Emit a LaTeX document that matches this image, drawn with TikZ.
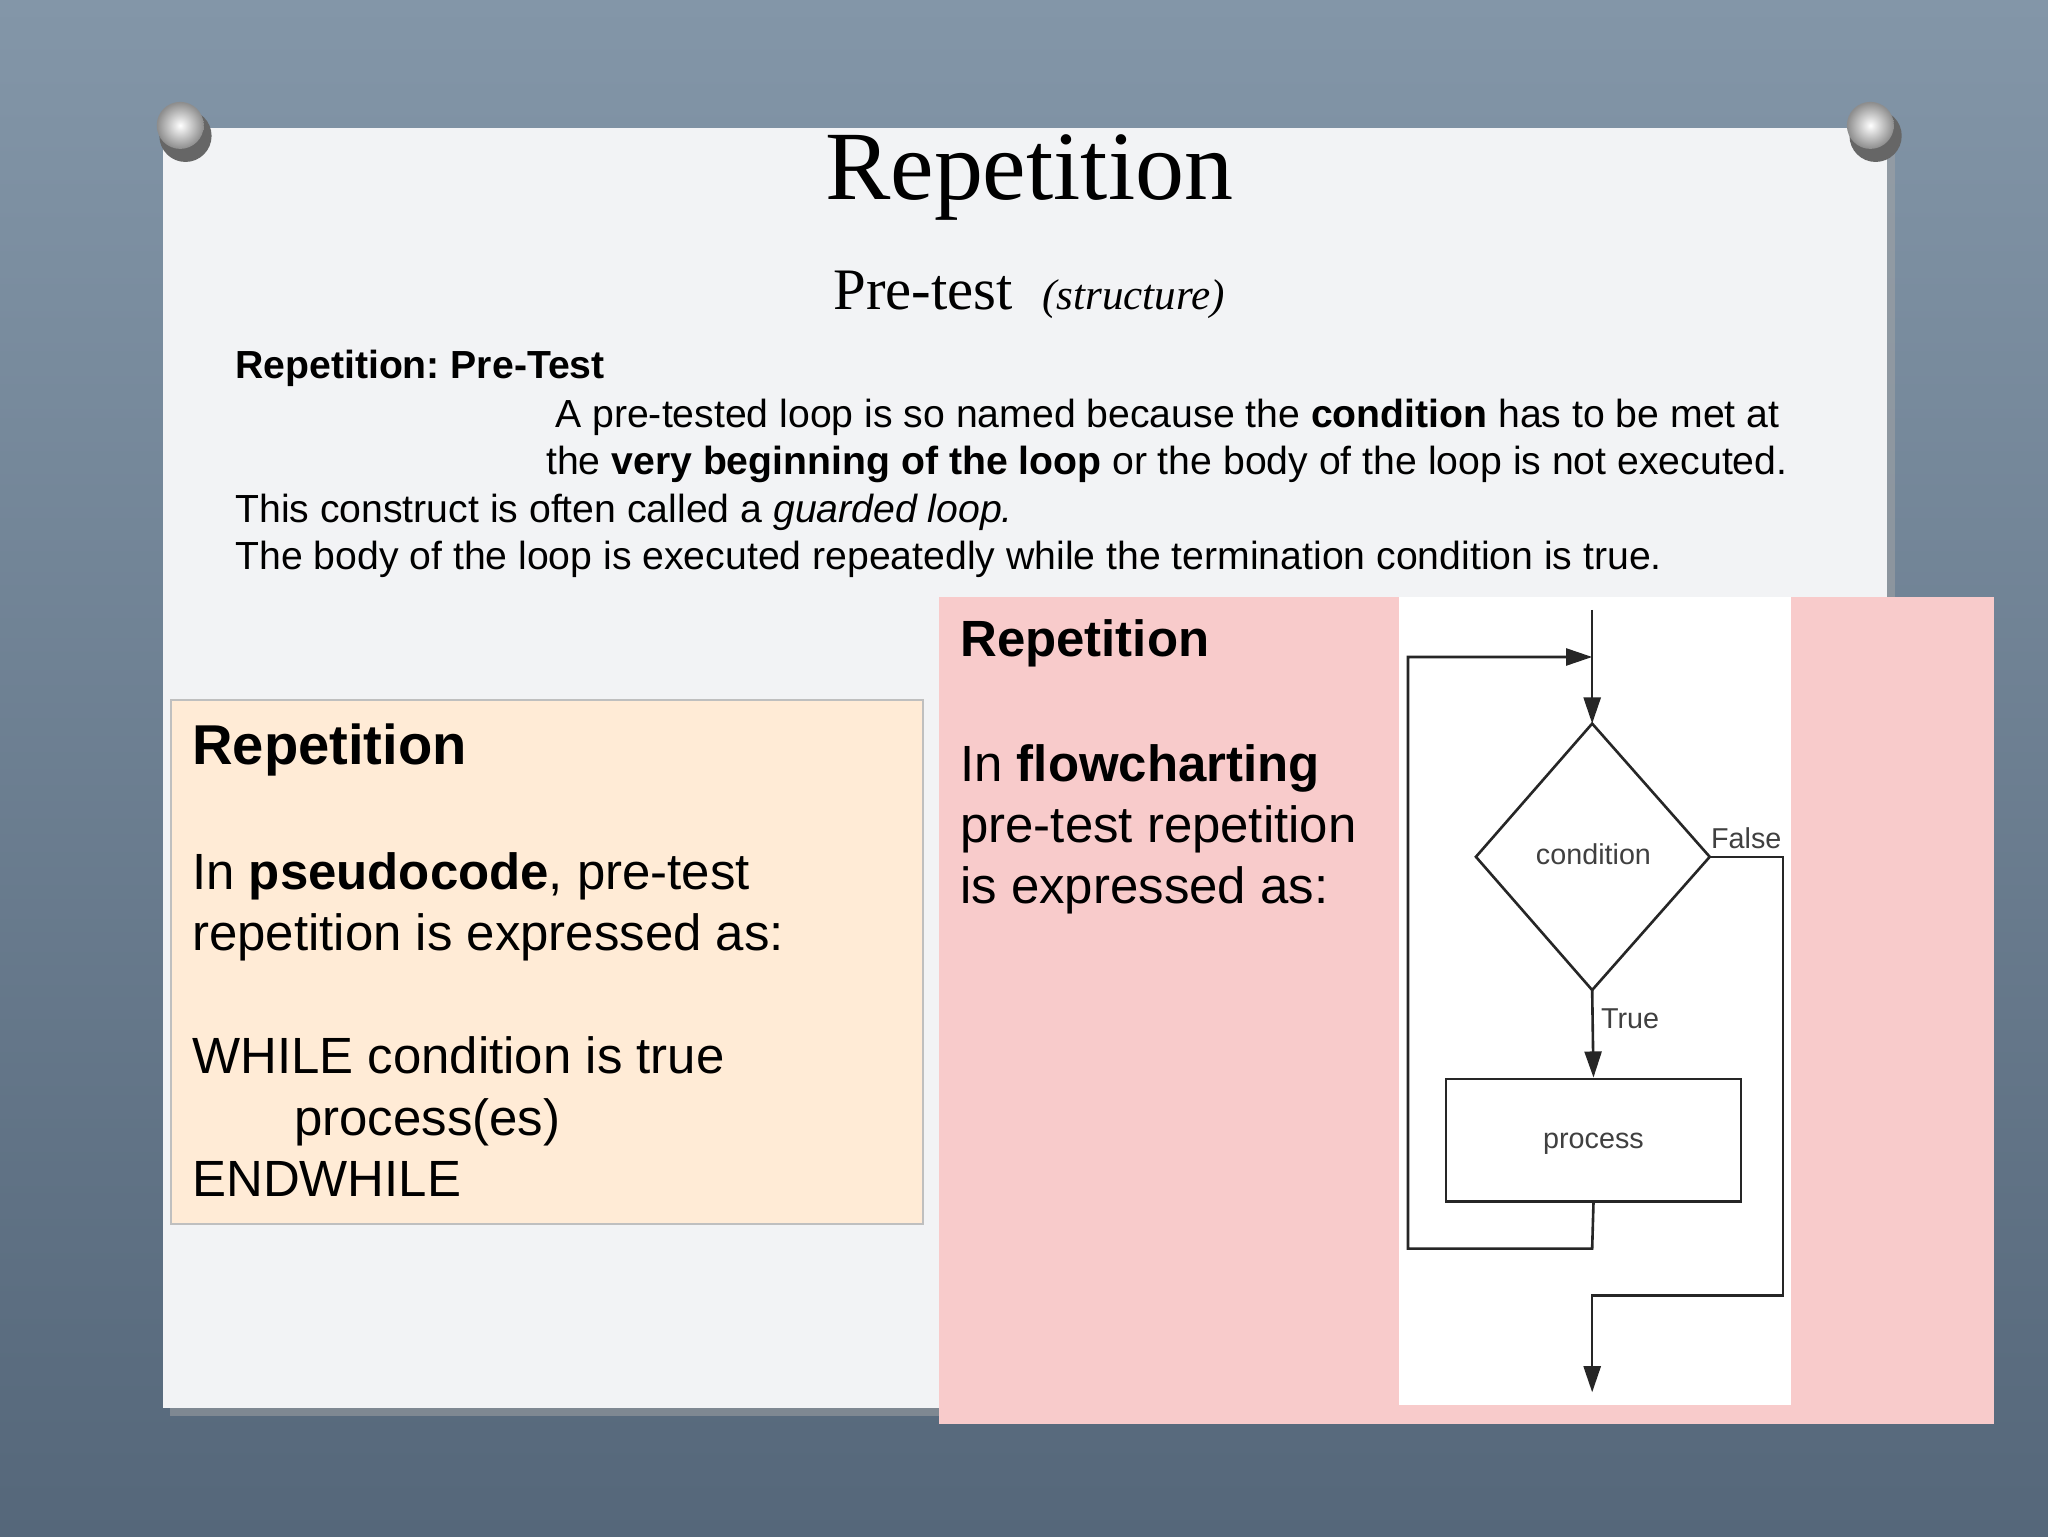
\documentclass[tikz,border=0pt]{standalone}
\usepackage{fontspec}
\setmainfont{Liberation Sans}
\newfontfamily\serifx{Liberation Serif}
\usetikzlibrary{arrows.meta}
\frenchspacing
\definecolor{bgA}{HTML}{8396A8}
\definecolor{bgB}{HTML}{55677A}
\definecolor{paper}{HTML}{F2F3F5}
\definecolor{orangebox}{HTML}{FFEBD6}
\definecolor{pinkbox}{HTML}{F8CBCB}
\tikzset{
  txt/.style={anchor=base west,inner sep=0pt,font=\fontsize{30}{34}\selectfont},
  big/.style={anchor=base west,inner sep=0pt,font=\fontsize{39}{44}\selectfont},
  fc/.style={draw=black!85,line width=2pt},
  fcarrow/.style={fc,-{Triangle[length=20pt,width=13pt]}},
  fclab/.style={inner sep=0pt,font=\fontsize{22}{26}\selectfont,text=black!75}
}
\begin{document}
\begin{tikzpicture}[x=1pt,y=-1pt]
\useasboundingbox (0,0) rectangle (1568,1176);
\shade[top color=bgA,bottom color=bgB] (0,0) rectangle (1568,1176);
\fill[black!35,opacity=0.5] (130,104) rectangle (1451,1084);
\fill[paper] (125,98) rectangle (1445,1078);
% pins
\foreach \p/\q in {(138,96)/a,(1432,96)/b}{
  \fill[black!60] \p ++(4,8) circle (20);
  \shade[inner color=white,outer color=black!45] \p circle (18);
}
\node[font=\serifx\fontsize{75}{80}\selectfont,inner sep=0pt,anchor=base] (title) at (788,153) {Repetition};
\node[font=\serifx\fontsize{45}{50}\selectfont,inner sep=0pt,anchor=base] (sub) at (788,237) {Pre-test\ \ {\fontsize{33}{36}\selectfont\itshape (structure)}};
\node[txt] (l1) at (180,290) {\textbf{Repetition: Pre-Test}};
\node[txt] (l2) at (425,327) {A pre-tested loop is so named because the \textbf{condition} has to be met at};
\node[txt] (l3) at (418,363) {the \textbf{very beginning of the loop} or the body of the loop is not executed.};
\node[txt] (l4) at (180,400) {This construct is often called a \textit{guarded loop.}};
\node[txt] (l5) at (180,436) {The body of the loop is executed repeatedly while the termination condition is true.};
% orange box
\draw[fill=orangebox,draw=black!25,line width=1.5pt] (131,536) rectangle (707,937);
\node[big,font=\bfseries\fontsize{43}{48}\selectfont] (oh) at (147,585) {Repetition};
\node[big] (o1) at (147,681) {In \textbf{pseudocode}, pre-test};
\node[big] (o2) at (147,728) {repetition is expressed as:};
\node[big] (o3) at (147,822) {WHILE condition is true};
\node[big] (o4) at (225,869) {process(es)};
\node[big] (o5) at (147,916) {ENDWHILE};
% pink box
\fill[pinkbox] (719,457) rectangle (1527,1090);
\fill[white] (1071,457) rectangle (1371,1076);
\node[big,font=\bfseries\fontsize{39}{44}\selectfont] (ph) at (735,503) {Repetition};
\node[big] (p1) at (735,598) {In \textbf{flowcharting}};
\node[big] (p2) at (735,645) {pre-test repetition};
\node[big] (p3) at (735,692) {is expressed as:};
% flowchart
\coordinate (top) at (1219,467);
\coordinate (dT) at (1219,554);
\coordinate (dB) at (1219,758);
\coordinate (dL) at (1130,656);
\coordinate (dR) at (1309,656);
\draw[fc,fill=white] (dT) -- (dR) -- (dB) -- (dL) -- cycle;
\node[fclab] (cond) at (1220,654) {condition};
\node[draw=black!85,line width=2pt,minimum width=226pt,minimum height=94pt,inner sep=0pt] (proc) at (1220,873) {};
\node[fclab] (ptxt) at (1220,876) {process};
\draw[fcarrow] (top) -- (dT);
\draw[fcarrow] (dB) -- (proc.north);
\coordinate (lp1) at (1219,956);
\coordinate (lp2) at (1078,956);
\coordinate (lp3) at (1078,503);
\coordinate (lp4) at (1219,503);
\draw[fcarrow] (proc.south) -- (lp1) -- (lp2) -- (lp3) -- (lp4);
\coordinate (f1) at (1365,656);
\coordinate (f2) at (1365,992);
\coordinate (f3) at (1219,992);
\coordinate (f4) at (1219,1066);
\draw[fcarrow] (dR) -- (f1) -- (f2) -- (f3) -- (f4);
\node[fclab] (ftxt) at (1337,642) {False};
\node[fclab] (ttxt) at (1248,780) {True};
\end{tikzpicture}
\end{document}
